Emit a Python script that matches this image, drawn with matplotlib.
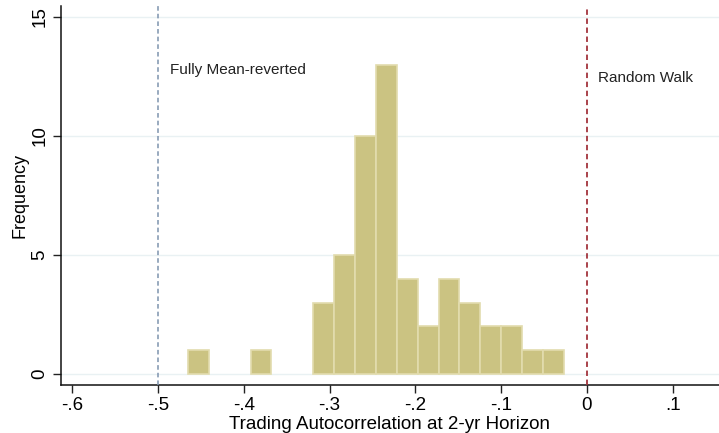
import numpy as np
import matplotlib
matplotlib.use("Agg")
import matplotlib.pyplot as plt

plt.rcParams['font.family'] = ['Liberation Sans', 'DejaVu Sans']

# Histogram data (Stata-style histogram)
bin_start = -0.465
bin_width = 0.02434
counts = [1, 0, 0, 1, 0, 0, 3, 5, 10, 13, 4, 2, 4, 3, 2, 2, 1, 1]

xticks = [-0.6, -0.5, -0.4, -0.3, -0.2, -0.1, 0.0, 0.1]
xtick_labels = ['-.6', '-.5', '-.4', '-.3', '-.2', '-.1', '0', '.1']
yticks = [0, 5, 10, 15]
ytick_labels = ['0', '5', '10', '15']

ref_lines = [-0.5, 0.0]
ref_labels = ['Fully Mean-reverted', 'Random Walk']
ref_label_pos = [(-0.486, 12.77), (0.0125, 12.43)]

fig = plt.figure(figsize=(7.19, 4.33), dpi=100)
ax = fig.add_axes([0.0848, 0.1109, 0.9152, 0.875])

edges = bin_start + bin_width * np.arange(len(counts) + 1)
counts_arr = np.array(counts)
nz = counts_arr > 0
ax.bar(edges[:-1][nz], counts_arr[nz], width=bin_width, align='edge',
       color='#cbc382', edgecolor='#e2dcae', linewidth=1.2, zorder=3)

for y in yticks:
    ax.axhline(y, color='#e9f1f3', linewidth=1.0, zorder=1)

ax.axvline(ref_lines[0], color='#7d93ae', linestyle=(0, (3, 2)), linewidth=1.1, zorder=4)
ax.axvline(ref_lines[1], color='#a3343d', linestyle=(0, (3, 2)), linewidth=1.3, zorder=4)

for lab, (x, y) in zip(ref_labels, ref_label_pos):
    ax.text(x, y, lab, fontsize=11, color='#222222', va='center', ha='left', zorder=5)

ax.set_xlim(-0.613, 0.154)
ax.set_ylim(-0.46, 15.46)

ax.set_xticks(xticks)
ax.set_xticklabels(xtick_labels, fontsize=13.5)
ax.set_yticks(yticks)
ax.set_yticklabels(ytick_labels, fontsize=13.5, rotation=90, va='center')

ax.tick_params(axis='both', direction='out', length=6, width=1, color='#222222', pad=3)

for s in ['top', 'right']:
    ax.spines[s].set_visible(False)
for s in ['left', 'bottom']:
    ax.spines[s].set_linewidth(1.1)
    ax.spines[s].set_color('#111111')

ax.set_xlabel('Trading Autocorrelation at 2-yr Horizon', fontsize=13.5, labelpad=1)
ax.set_ylabel('Frequency', fontsize=13, labelpad=2)

fig.savefig('out.png', dpi=100)
